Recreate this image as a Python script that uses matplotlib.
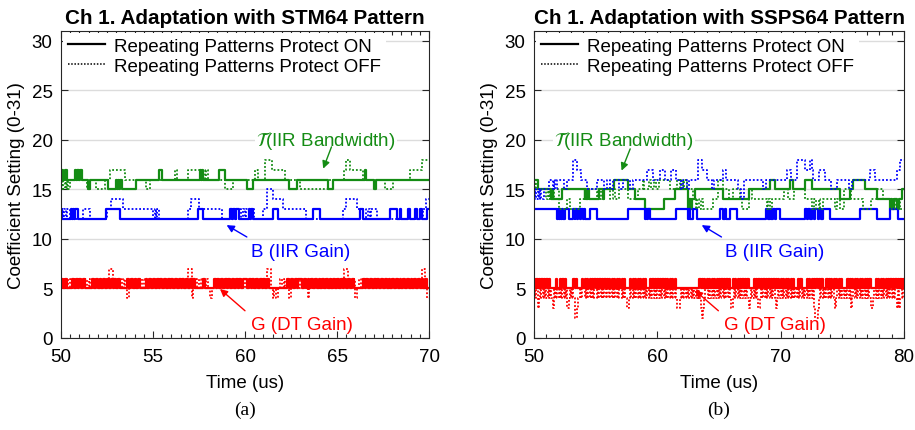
import numpy as np
import matplotlib.pyplot as plt
from matplotlib.lines import Line2D
from matplotlib.ticker import MultipleLocator

plt.rcParams['font.family'] = ['Liberation Sans', 'DejaVu Sans']
plt.rcParams['mathtext.fontset'] = 'stix'

GREEN = '#148c14'
BLUE = '#0000ff'
RED = '#ff0000'

# ---- (a) STM64, 50..70 us : (time, setting) breakpoints, step after ----
tau_on_a = [(50.0, 17), (50.1, 16), (50.2, 17), (50.3, 16), (50.75, 17), (50.8, 16), (50.85, 17),
            (50.9, 16), (50.95, 17), (51.0, 16), (51.05, 17), (51.12, 16), (51.45, 15), (51.6, 16),
            (52.55, 15), (53.0, 16), (53.05, 15), (53.1, 16), (53.15, 15), (53.2, 16), (53.3, 15),
            (54.1, 16), (55.3, 17), (55.5, 16), (57.55, 17), (57.6, 16), (57.65, 17), (57.7, 16),
            (58.6, 17), (58.9, 16), (60.1, 15), (60.45, 16), (62.4, 15), (62.8, 16), (64.5, 15),
            (64.8, 16), (66.5, 17), (66.6, 16), (67.0, 15), (67.1, 16)]
tau_off_a = [(50.0, 15), (50.05, 16), (50.1, 15), (50.2, 16), (50.25, 15), (50.35, 16), (50.4, 15),
             (50.5, 16), (51.4, 15), (51.45, 16), (51.5, 15), (51.6, 16), (51.9, 15), (52.4, 16),
             (52.65, 17), (53.5, 16), (54.6, 15), (54.85, 16), (56.2, 17), (56.3, 16), (56.9, 17),
             (57.6, 16), (57.7, 17), (57.8, 16), (57.9, 17), (58.0, 16), (58.9, 15), (59.35, 16),
             (60.55, 17), (60.7, 16), (61.1, 18), (61.45, 17), (62.2, 16), (63.0, 15), (64.5, 16),
             (65.4, 17), (65.5, 18), (65.7, 17), (66.4, 16), (67.6, 15), (68.05, 16), (68.95, 17),
             (69.6, 18)]
b_on_a = [(50.0, 13), (50.05, 12), (50.55, 13), (50.6, 12), (50.65, 13), (50.7, 12), (50.75, 13),
          (50.9, 12), (52.45, 13), (53.2, 12), (57.45, 13), (57.7, 12), (59.2, 13), (59.3, 12),
          (59.35, 13), (59.45, 12), (59.5, 13), (59.7, 12), (60.2, 13), (60.25, 12), (60.3, 13),
          (60.45, 12), (61.5, 13), (61.8, 12), (63.7, 13), (64.05, 12), (66.25, 13), (66.4, 12),
          (67.9, 13), (68.25, 12), (68.45, 13), (68.5, 12), (68.85, 13), (68.95, 12), (69.25, 13),
          (69.35, 12), (69.5, 13), (69.6, 12), (69.9, 13)]
b_off_a = [(50.0, 13), (50.1, 12), (50.15, 13), (50.25, 12), (50.3, 13), (50.5, 12), (51.2, 13),
           (51.6, 12), (52.5, 13), (52.7, 14), (53.35, 13), (55.0, 12), (55.1, 13), (55.15, 12),
           (55.2, 13), (55.3, 12), (56.9, 13), (57.05, 14), (57.5, 13), (58.75, 12), (59.7, 13),
           (59.8, 12), (59.9, 13), (60.0, 12), (60.05, 13), (60.5, 12), (61.0, 13), (61.2, 15),
           (61.5, 14), (62.05, 13), (63.3, 12), (65.3, 13), (65.5, 14), (66.1, 13), (66.6, 12),
           (66.7, 13), (66.8, 12), (66.85, 13), (67.2, 12), (69.7, 13), (69.85, 14)]
# DT gain sampled every 0.1 us (one group = 1 us)
g_on_a = ("6565556565 6565555656 5656565656 5655556565 6565556565 6565656565 6565656565 "
          "6565555655 5556565656 5656565656 6565656565 6565555555 5556565656 6565656565 "
          "6565656565 6565656565 5555656565 6565656565 6565656565 6565656565")
g_off_a = ("5656565656 5656565656 5656567765 6565654565 6565656565 6565656565 6565656567 "
           "7456565656 5456565656 5656565656 5656565656 5677545456 5656456565 6565465656 "
           "5656565656 5656775656 4565656565 6565656565 6565656565 6565657754")

# ---- (b) SSPS64, 50..80 us ----
tau_on_b = [(50.0, 16), (50.3, 15), (51.4, 14), (51.5, 15), (51.55, 14), (52.3, 15), (54.1, 14),
            (54.15, 15), (54.25, 14), (54.35, 15), (54.45, 14), (55.3, 15), (55.6, 14), (55.65, 15),
            (56.5, 16), (57.6, 15), (58.2, 14), (59.0, 13), (60.5, 14), (61.4, 15), (62.5, 13),
            (62.6, 14), (62.7, 13), (62.8, 14), (63.05, 15), (65.35, 14), (67.4, 15), (69.15, 16),
            (69.55, 15), (70.75, 16), (71.0, 15), (72.0, 16), (72.5, 15), (74.8, 14), (75.6, 15),
            (75.9, 16), (76.85, 15), (77.8, 14), (78.85, 13), (78.95, 14), (79.05, 13), (79.2, 14),
            (79.4, 13), (79.6, 14), (79.8, 15)]
tau_off_b = [(50.0, 16), (50.1, 15), (50.2, 16), (50.35, 15), (51.0, 14), (51.1, 15), (51.2, 14),
             (51.3, 15), (51.4, 14), (51.6, 15), (52.0, 13), (52.7, 14), (52.95, 13), (53.7, 14),
             (54.2, 15), (55.1, 14), (55.2, 15), (55.3, 14), (55.4, 15), (55.6, 14), (55.7, 15),
             (56.2, 14), (56.4, 15), (56.6, 14), (56.9, 15), (57.6, 14), (58.4, 15), (58.8, 16),
             (58.9, 15), (59.3, 16), (59.5, 15), (59.7, 16), (59.9, 15), (60.1, 16), (61.0, 15),
             (61.6, 16), (61.8, 15), (61.9, 16), (62.1, 15), (62.2, 16), (62.4, 15), (62.9, 14),
             (63.1, 13), (63.2, 14), (63.4, 13), (63.5, 14), (63.7, 13), (64.5, 14), (64.9, 16),
             (65.3, 15), (65.8, 14), (66.1, 15), (66.7, 14), (66.9, 13), (67.4, 15), (67.7, 14),
             (68.9, 13), (69.0, 14), (69.1, 13), (69.3, 14), (70.3, 15), (70.6, 14), (71.1, 15),
             (72.0, 14), (72.5, 13), (72.7, 14), (72.9, 13), (73.1, 14), (73.2, 13), (73.4, 14),
             (74.4, 13), (74.6, 14), (74.8, 13), (75.1, 15), (75.7, 14), (76.7, 13), (77.3, 14),
             (77.8, 15), (78.3, 14), (78.9, 13), (79.1, 14), (79.3, 13), (79.5, 14), (79.7, 13)]
b_on_b = [(50.0, 13), (51.85, 12), (51.95, 13), (52.0, 12), (52.1, 13), (52.15, 12), (52.3, 13),
          (52.35, 12), (52.5, 13), (52.85, 12), (53.2, 13), (53.3, 12), (53.35, 13), (53.5, 12),
          (53.55, 13), (53.75, 12), (53.85, 13), (53.95, 12), (54.05, 13), (54.15, 12), (54.55, 13),
          (55.1, 12), (57.65, 13), (59.0, 12), (59.1, 13), (59.15, 12), (59.25, 13), (59.4, 12),
          (61.55, 13), (62.5, 12), (62.6, 13), (62.65, 12), (62.9, 13), (63.2, 12), (65.1, 13),
          (65.35, 12), (65.45, 13), (65.6, 12), (65.9, 13), (66.45, 12), (68.85, 13), (69.0, 12),
          (69.1, 13), (69.25, 12), (69.35, 13), (69.55, 12), (69.65, 13), (69.95, 12), (71.95, 13),
          (72.1, 12), (72.2, 13), (72.4, 12), (72.5, 13), (72.7, 12), (72.8, 13), (73.0, 12),
          (73.1, 13), (73.3, 12), (73.4, 13), (74.0, 12), (76.45, 13), (77.8, 12), (78.85, 13),
          (79.55, 12)]
b_off_b = [(50.0, 14), (50.1, 15), (50.2, 14), (50.3, 15), (50.4, 14), (50.5, 15), (50.6, 14),
           (50.8, 15), (51.2, 16), (51.5, 15), (51.6, 16), (51.7, 15), (51.9, 16), (52.4, 15),
           (52.7, 16), (53.2, 18), (53.5, 17), (53.8, 16), (54.3, 15), (55.1, 16), (55.7, 15),
           (55.9, 16), (56.2, 15), (56.4, 16), (56.9, 15), (57.2, 16), (57.8, 15), (58.0, 16),
           (59.2, 17), (59.65, 16), (60.2, 17), (60.6, 16), (61.1, 17), (61.5, 16), (61.9, 15),
           (62.1, 16), (62.4, 15), (62.6, 16), (63.3, 18), (63.6, 17), (64.0, 16), (64.4, 15),
           (64.6, 16), (65.3, 17), (65.6, 16), (66.5, 15), (66.8, 14), (67.0, 16), (68.6, 15),
           (68.8, 16), (70.55, 17), (70.8, 16), (71.3, 18), (72.0, 17), (72.4, 18), (72.5, 17),
           (72.6, 16), (73.1, 17), (73.6, 16), (74.1, 15), (74.6, 16), (75.5, 15), (75.8, 16),
           (77.25, 17), (77.65, 16), (79.4, 17), (79.7, 18)]
g_on_b = ("6565656565 6565555565 5656565555 5565655556 5656565656 5656565656 5656565656 "
          "5656555565 6565656565 6555656565 6565656565 6565655555 5555555555 5555656565 "
          "6565656565 6565656565 5656565656 5656555565 6565656565 6565656565 6565656565 "
          "6555656555 5656565656 5656555656 5656565656 5555656565 6565656565 6565555656 "
          "5656565656 5656565656")
g_off_b = ("5453454545 4545435454 5454545345 4542234545 5454545454 4545454545 5454545454 "
           "4545433454 5454545454 5454545454 5454545454 5454543345 4545454545 4545432345 "
           "5454545454 5454545454 3454545454 5454345454 5434545454 5454543454 5454545454 "
           "5454545454 5454545322 3454545454 5454345454 5454545345 4545454545 4543345454 "
           "5454545454 5454353454")

titles = ['Ch 1. Adaptation with STM64 Pattern', 'Ch 1. Adaptation with SSPS64 Pattern']
x_ranges = [(50, 70), (50, 80)]
x_majors = [5, 10]
x_minors = [0.5, 1]
panel_tags = ['(a)', '(b)']

# label positions (data coords): text, arrow tail, arrow head
tau_lbl = [(64.4, 20.0), (57.3, 20.0)]
tau_arrow = [((64.7, 19.3), (64.25, 17.1)), ((57.8, 19.1), (57.1, 16.9))]
b_lbl = [(63.0, 8.7), (69.5, 8.7)]
b_arrow = [((60.1, 10.2), (59.0, 11.4)), ((65.2, 10.2), (63.6, 11.4))]
g_lbl = [(63.1, 1.4), (69.5, 1.4)]
g_arrow = [((60.0, 2.75), (58.64, 4.95)), ((64.95, 2.75), (63.05, 4.8))]


def bp_steps(pairs, t_end):
    t = [p[0] for p in pairs] + [t_end]
    v = [p[1] for p in pairs] + [pairs[-1][1]]
    return t, v


def sampled_steps(s, t0, t_end):
    v = [int(c) for c in s.replace(' ', '')]
    t = list(t0 + 0.1 * np.arange(len(v))) + [t_end]
    return t, v + [v[-1]]


fig = plt.figure(figsize=(9.15, 4.31), dpi=100)
axes = [fig.add_axes([61 / 915, 92 / 431, 368 / 915, 307 / 431]),
        fig.add_axes([534 / 915, 92 / 431, 370 / 915, 307 / 431])]

series = [(tau_on_a, tau_off_a, b_on_a, b_off_a, g_on_a, g_off_a),
          (tau_on_b, tau_off_b, b_on_b, b_off_b, g_on_b, g_off_b)]

dotted = (0, (1, 1.1))
FS = 13.5

for i, ax in enumerate(axes):
    x0, x1 = x_ranges[i]
    tau_on, tau_off, b_on, b_off, g_on, g_off = series[i]

    ax.step(*bp_steps(tau_on, x1), where='post', color=GREEN, lw=1.6)
    ax.step(*bp_steps(b_on, x1), where='post', color=BLUE, lw=1.6)
    ax.step(*sampled_steps(g_on, x0, x1), where='post', color=RED, lw=1.6)
    ax.step(*bp_steps(tau_off, x1), where='post', color=GREEN, lw=1.3, ls=dotted)
    ax.step(*bp_steps(b_off, x1), where='post', color=BLUE, lw=1.3, ls=dotted)
    ax.step(*sampled_steps(g_off, x0, x1), where='post', color=RED, lw=1.3, ls=dotted)

    ax.set_xlim(x0, x1)
    ax.set_ylim(0, 31)
    ax.set_yticks(range(0, 31, 5))
    ax.xaxis.set_major_locator(MultipleLocator(x_majors[i]))
    ax.xaxis.set_minor_locator(MultipleLocator(x_minors[i]))
    ax.grid(axis='y', color='#dcdcdc', lw=1)
    ax.set_axisbelow(True)
    ax.tick_params(which='both', direction='in', top=True, right=True, width=0.8,
                   colors='#262626', labelcolor='black')
    ax.tick_params(which='major', length=5, labelsize=FS)
    ax.tick_params(axis='x', which='major', pad=7)
    ax.tick_params(axis='y', which='major', pad=6)
    ax.tick_params(which='minor', length=3)
    ax.tick_params(axis='y', which='minor', left=False, right=False)
    for sp in ax.spines.values():
        sp.set_color('#262626')
        sp.set_linewidth(0.8)

    ax.set_title(titles[i], fontsize=14.9, fontweight='bold', pad=6)
    ax.set_xlabel('Time (us)', fontsize=FS, labelpad=7)
    ax.set_ylabel('Coefficient Setting (0-31)', fontsize=FS, labelpad=5)

    handles = [Line2D([], [], color='black', lw=1.6),
               Line2D([], [], color='black', lw=1.1, ls=dotted)]
    leg = ax.legend(handles, ['Repeating Patterns Protect ON', 'Repeating Patterns Protect OFF'],
                    loc='upper left', fontsize=FS, frameon=True, fancybox=False,
                    borderaxespad=0.1, borderpad=0.25, labelspacing=0.15,
                    handlelength=2.0, handletextpad=0.5)
    leg.get_frame().set_facecolor('white')
    leg.get_frame().set_edgecolor('none')
    leg.get_frame().set_alpha(1)

    ax.text(*tau_lbl[i], r'$\mathcal{T}$(IIR Bandwidth)', color=GREEN, fontsize=FS,
            ha='center', va='center', bbox=dict(fc='white', ec='none', pad=1))
    ax.text(*b_lbl[i], 'B (IIR Gain)', color=BLUE, fontsize=FS, ha='center', va='center')
    ax.text(*g_lbl[i], 'G (DT Gain)', color=RED, fontsize=FS, ha='center', va='center')
    for (tail, head), c in [(tau_arrow[i], GREEN), (b_arrow[i], BLUE), (g_arrow[i], RED)]:
        ax.annotate('', xy=head, xytext=tail,
                    arrowprops=dict(arrowstyle='-|>', color=c, lw=1, mutation_scale=11,
                                    shrinkA=0, shrinkB=0))

    fig.text((ax.get_position().x0 + ax.get_position().x1) / 2, 1 - 410 / 431, panel_tags[i],
             family='Liberation Serif', fontsize=14, ha='center', va='center')

fig.savefig('out.png', dpi=100)
